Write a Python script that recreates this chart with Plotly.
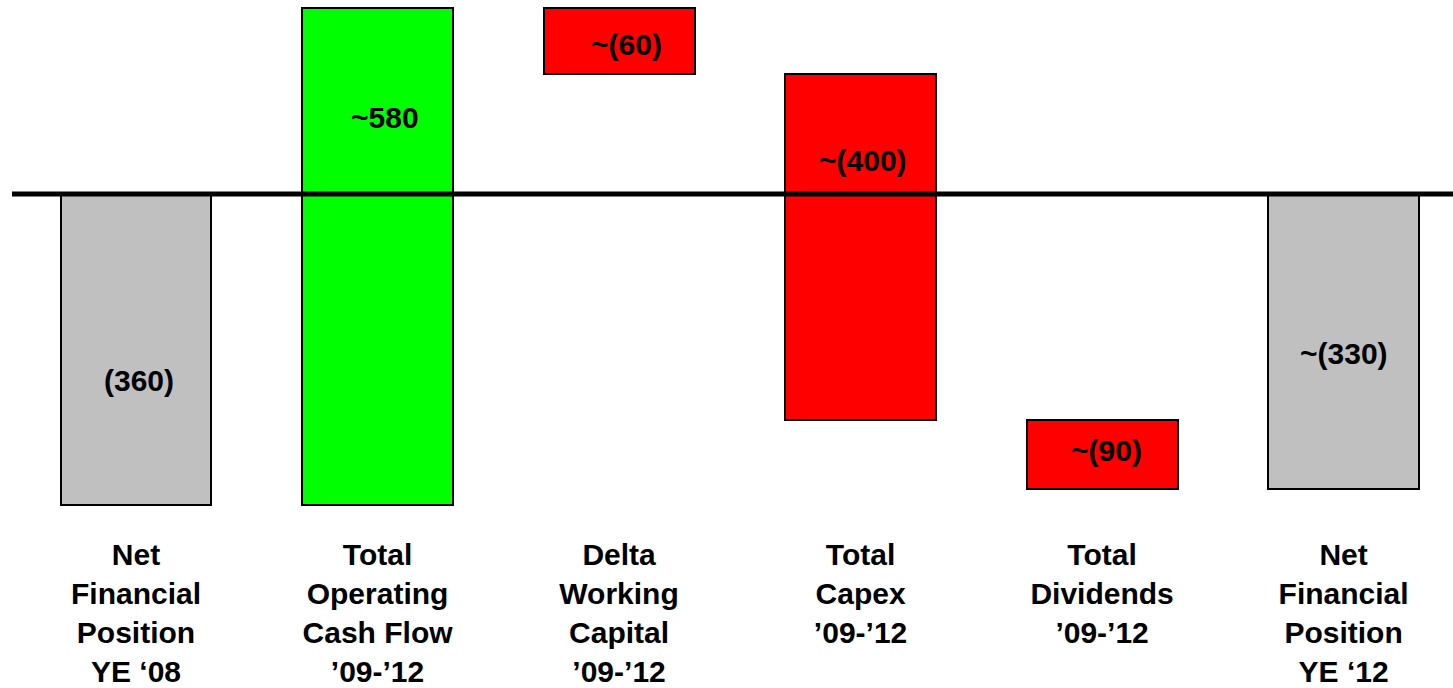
import numpy as np
import plotly.graph_objects as go

# ---- data ----
categories = [
    "Net<br>Financial<br>Position<br>YE \u201808",
    "Total<br>Operating<br>Cash Flow<br>\u201909-\u201912",
    "Delta<br>Working<br>Capital<br>\u201909-\u201912",
    "Total<br>Capex<br>\u201909-\u201912",
    "Total<br>Dividends<br>\u201909-\u201912",
    "Net<br>Financial<br>Position<br>YE \u201812",
]
start_value = -360
deltas = [575, -76, -401, -79]
value_labels = ["(360)", "~580", "~(60)", "~(400)", "~(90)", "~(330)"]

# ---- styles ----
bar_colors = ["#C0C0C0", "#00FF00", "#FF0000", "#FF0000", "#FF0000", "#C0C0C0"]
label_frac = [0.40, 0.78, 0.45, 0.75, 0.56, 0.46]
label_dx = [0.012, 0.032, 0.032, 0.008, 0.017, 0.0]
FONT = "Liberation Sans, Arial, sans-serif"

# ---- waterfall geometry ----
cum = np.cumsum([start_value] + deltas)
end_value = cum[-1]
bases = [0] + list(cum[:-1]) + [0]
heights = [start_value] + deltas + [end_value]
x = list(range(len(categories)))

fig = go.Figure()
fig.add_trace(go.Bar(
    x=x, y=heights, base=bases, width=0.625,
    marker=dict(color=bar_colors, line=dict(color="black", width=2)),
    hoverinfo="skip", showlegend=False,
))

for i in x:
    lo = min(bases[i], bases[i] + heights[i])
    hi = max(bases[i], bases[i] + heights[i])
    fig.add_annotation(
        x=i + label_dx[i], y=lo + label_frac[i] * (hi - lo),
        text=value_labels[i], showarrow=False,
        font=dict(family=FONT, size=30, color="black", weight="bold"),
        xanchor="center", yanchor="middle",
    )

fig.add_shape(type="line", xref="paper", yref="y", x0=0, x1=1, y0=0, y1=0,
              line=dict(color="black", width=5), layer="above")

fig.update_layout(
    width=1453, height=688,
    margin=dict(l=12, r=0, t=0, b=168),
    paper_bgcolor="white", plot_bgcolor="white",
    bargap=0,
    xaxis=dict(range=[-0.5135, 5.453], tickvals=x, ticktext=categories,
               showgrid=False, zeroline=False, showline=False, ticks="",
               tickfont=dict(family=FONT, size=30, color="black", weight="bold"),
               ticklabelstandoff=14, automargin=False,
               fixedrange=True),
    yaxis=dict(range=[-377.3, 224.5], visible=False, showgrid=False,
               zeroline=False, fixedrange=True, automargin=False),
)

fig.write_html(
    "out.html",
    config={"displayModeBar": False},
    post_script="document.body.style.margin='0';document.body.style.overflow='hidden';",
)
